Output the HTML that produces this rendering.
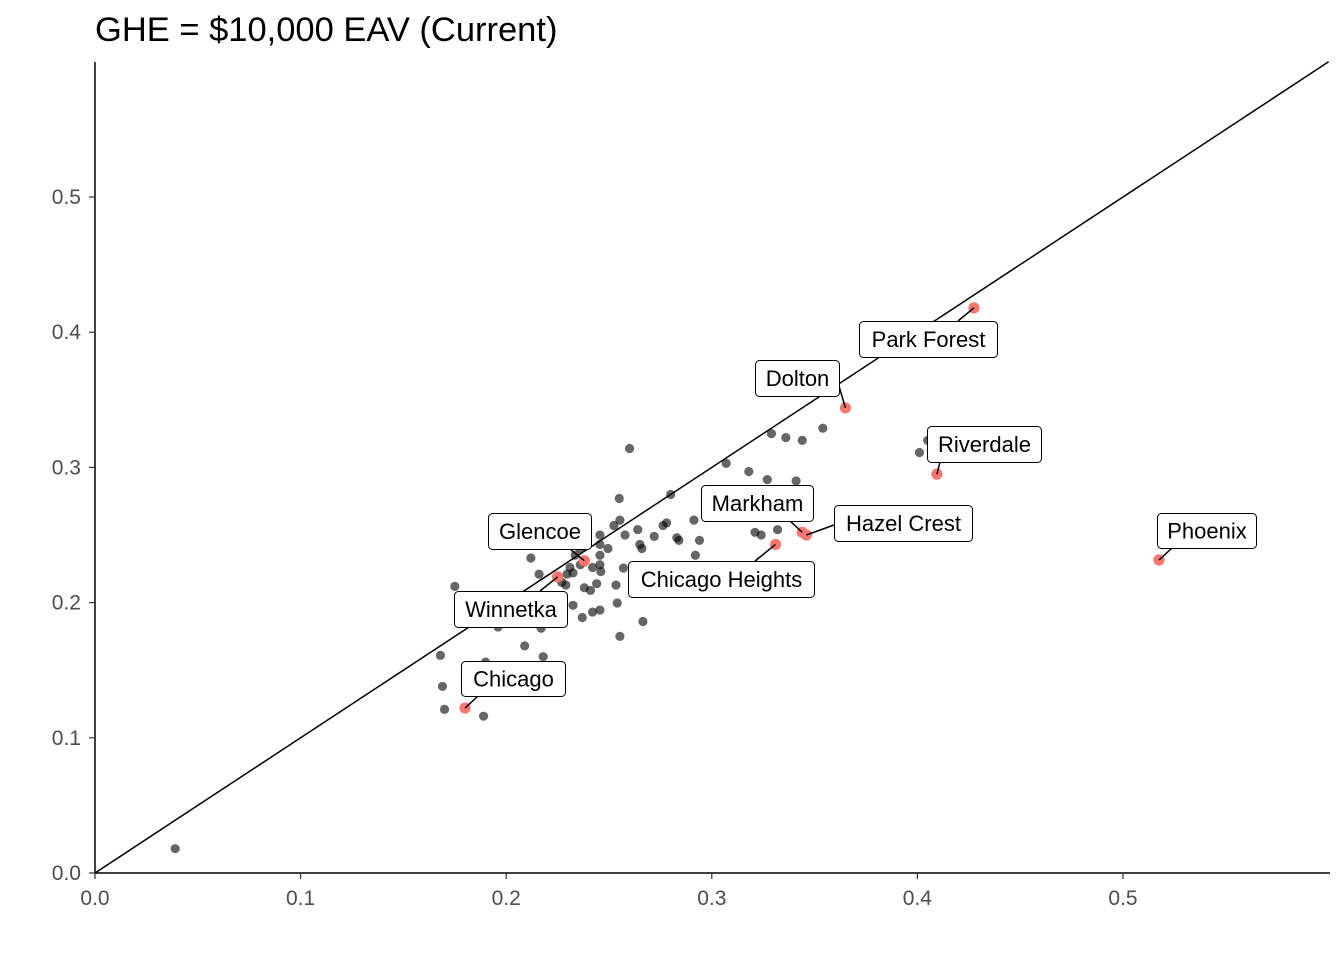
<!DOCTYPE html>
<html><head><meta charset="utf-8"><style>
body{margin:0;background:#fff;width:1344px;height:960px;overflow:hidden}
text{font-family:"Liberation Sans",sans-serif}
</style></head><body>
<svg id="chart" width="1344" height="960">
<text x="95" y="41" font-size="34.5" fill="#000">GHE = $10,000 EAV (Current)</text>
<g id="grid"></g><g id="marks"></g><g id="labels"></g>
</svg>
<script>
const xs=[0.039,0.168,0.169,0.170,0.189,0.175,0.212,0.216,0.217,0.209,0.218,0.196,0.190,0.260,0.255,0.280,0.307,0.318,0.329,0.336,0.344,0.354,0.327,0.341,0.321,0.332,0.324,
0.2456,0.2456,0.2456,0.2456,0.246,0.2335,0.236,0.238,0.241,0.242,0.2456,0.237,0.2325,0.226,0.229,0.238,0.244,
0.2495,0.2524,0.2553,0.2578,0.264,0.265,0.266,0.272,0.2763,0.278,0.283,0.284,0.2913,0.294,0.292,0.2534,0.254,0.2553,0.2665,0.257,0.242,0.2325,0.2296,0.401,0.405,0.231,0.236,0.227,0.220,0.2];
const ys=[0.018,0.161,0.138,0.121,0.116,0.212,0.233,0.221,0.181,0.168,0.160,0.182,0.156,0.314,0.277,0.280,0.303,0.297,0.325,0.322,0.320,0.329,0.291,0.290,0.252,0.254,0.250,
0.250,0.243,0.235,0.228,0.223,0.235,0.240,0.230,0.209,0.193,0.1945,0.189,0.198,0.202,0.213,0.211,0.214,
0.240,0.257,0.261,0.250,0.254,0.243,0.240,0.249,0.257,0.259,0.248,0.246,0.261,0.246,0.235,0.213,0.1997,0.175,0.186,0.2256,0.226,0.222,0.221,0.311,0.320,0.226,0.228,0.215,0.205,0.185];
const hiNames=["Park Forest","Dolton","Riverdale","Hazel Crest","Markham","Chicago Heights","Glencoe","Winnetka","Phoenix","Chicago"];
const hiX=[0.4275,0.365,0.4095,0.346,0.344,0.331,0.238,0.225,0.5175,0.180];
const hiY=[0.418,0.344,0.295,0.250,0.252,0.243,0.231,0.219,0.2315,0.122];
const xTicks=[0,0.1,0.2,0.3,0.4,0.5], yTicks=[0,0.1,0.2,0.3,0.4,0.5];
const X=v=>95+v*2056, Y=v=>873-v*1352;
const NS="http://www.w3.org/2000/svg";
function mk(tag,at,parent){const e=document.createElementNS(NS,tag);for(const k in at)e.setAttribute(k,at[k]);parent.appendChild(e);return e;}
const g=document.getElementById('grid'),m=document.getElementById('marks'),L=document.getElementById('labels');
let a=mk('line',{x1:95,y1:62,x2:95,y2:873,stroke:'#000','stroke-width':1.5},g);


a=mk('line',{x1:95,y1:873,x2:1330,y2:873,stroke:'#000','stroke-width':1.5},g);


xTicks.forEach(t=>{mk('line',{x1:X(t),x2:X(t),y1:873,y2:879,stroke:'#333','stroke-width':1.2},g);
const tx=mk('text',{x:X(t),y:905,'font-size':21,fill:'#4d4d4d','text-anchor':'middle'},g);tx.textContent=t.toFixed(1);

});
yTicks.forEach(t=>{mk('line',{x1:89,x2:95,y1:Y(t),y2:Y(t),stroke:'#333','stroke-width':1.2},g);
const tx=mk('text',{x:81,y:Y(t)+7,'font-size':21,fill:'#4d4d4d','text-anchor':'end'},g);tx.textContent=t.toFixed(1);

});
a=mk('line',{x1:X(0),y1:Y(0),x2:X(0.6),y2:Y(0.6),stroke:'#000','stroke-width':1.5},m);


xs.forEach((v,i)=>{const c=mk('circle',{cx:X(v),cy:Y(ys[i]),r:4.6,fill:'#000','fill-opacity':0.6},m);

});
hiX.forEach((v,i)=>{const c=mk('circle',{cx:X(v),cy:Y(hiY[i]),r:5.6,fill:'#F8766D'},m);

});
const boxes=[[859,321,138,36,958,321],[755,360,84,36,839,386],[927,426,114,36,940,462],[834,505,138,36,834,525],[701,485,112,36,790,521],[628,561,186,36,755,561],[488,513,103,36,570,549],[454,591,113,36,540,591],[1157,513,99,35,1172,548],[461,661,104,35,478,696]];
hiNames.forEach((n,i)=>{const b=boxes[i];
mk('line',{x1:b[4],y1:b[5],x2:X(hiX[i]),y2:Y(hiY[i]),stroke:'#000','stroke-width':1.5},L);});
hiNames.forEach((n,i)=>{const b=boxes[i];
const r=mk('rect',{x:b[0]+0.5,y:b[1]+0.5,width:b[2],height:b[3],rx:4,fill:'#fff',stroke:'#000','stroke-width':1},L);


const t=mk('text',{x:b[0]+b[2]/2+0.5,y:b[1]+b[3]/2+8,'font-size':22,'text-anchor':'middle',fill:'#000'},L);t.textContent=n;

});
</script>
</body></html>
